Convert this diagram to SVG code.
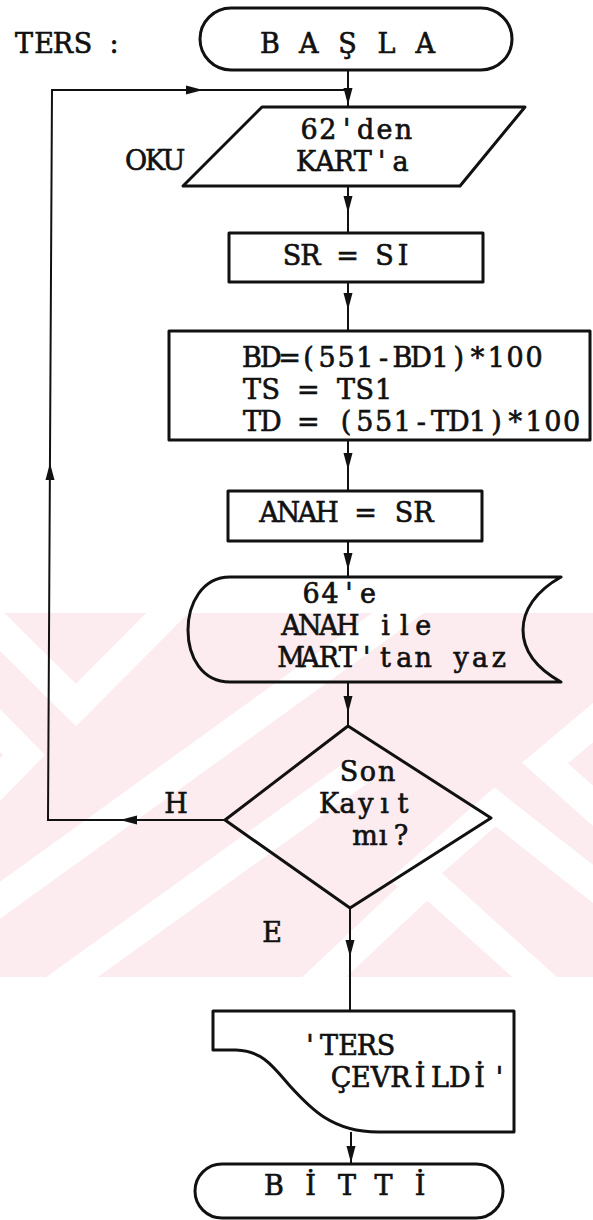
<svg xmlns="http://www.w3.org/2000/svg" xmlns:xlink="http://www.w3.org/1999/xlink" width="593" height="1220" viewBox="0 0 593 1220">
<style>
  .shape { fill: none; stroke: #111; stroke-width: 3; stroke-linejoin: round; }
  .conn { fill: none; stroke: #111; stroke-width: 2; }
  .ah { fill: #111; stroke: none; }
  text { font-family: "DejaVu Serif", "Liberation Serif", serif; font-size: 27px; fill: #111; stroke: #111; stroke-width: 0.65; text-anchor: middle; }
</style>
<defs>
  <path id="arrow" d="M0,0 L-4.5,-17 L4.5,-17 Z"/>
  <clipPath id="band"><rect x="0" y="613" width="593" height="364"/></clipPath>
</defs>
<rect x="0" y="0" width="593" height="1220" fill="#ffffff"/>
<g id="watermark" clip-path="url(#band)">
  <rect x="0" y="613" width="593" height="364" fill="#fdecef"/>
  <g fill="none" stroke="#ffffff" stroke-width="30">
    <polyline points="-20,610 76,705 190,590"/>
    <polyline points="-15,715 24,755 -15,795"/>
    <line x1="-30" y1="922" x2="430" y2="590"/>
    <line x1="40" y1="1000" x2="360" y2="770"/>
    <polyline points="300,1000 427,880 560,1000"/>
    <polyline points="400,890 495,807 620,905"/>
    <polyline points="620,700 545,763 620,830"/>
  </g>
</g>
<g id="connectors">
  <path class="conn" d="M348,70 V107"/>
  <path class="conn" d="M348,186 V233"/>
  <path class="conn" d="M348,282 V331"/>
  <path class="conn" d="M348,440 V491"/>
  <path class="conn" d="M348,541 V577"/>
  <path class="conn" d="M348,682 V726"/>
  <path class="conn" d="M350,908 V1011"/>
  <path class="conn" d="M351,1132 V1164"/>
  <path class="conn" d="M225,820 H48 L52,90 H348"/>
  <use xlink:href="#arrow" class="ah" transform="translate(348,105)"/>
  <use xlink:href="#arrow" class="ah" transform="translate(348,213)"/>
  <use xlink:href="#arrow" class="ah" transform="translate(348,310)"/>
  <use xlink:href="#arrow" class="ah" transform="translate(348,470)"/>
  <use xlink:href="#arrow" class="ah" transform="translate(348,570)"/>
  <use xlink:href="#arrow" class="ah" transform="translate(348,713)"/>
  <use xlink:href="#arrow" class="ah" transform="translate(350,957)"/>
  <use xlink:href="#arrow" class="ah" transform="translate(351,1163)"/>
  <use xlink:href="#arrow" class="ah" transform="translate(120,820) rotate(90)"/>
  <use xlink:href="#arrow" class="ah" transform="translate(50,463) rotate(180)"/>
  <use xlink:href="#arrow" class="ah" transform="translate(203,90) rotate(-90)"/>
  <text x="176" y="813">H</text>
  <text x="272" y="942">E</text>
</g>
<g id="title">
  <text x="24 44 63 83 100 114" y="53">TERS :</text>
</g>
<g id="start">
  <rect class="shape" x="200" y="8" width="312" height="62" rx="31"/>
  <text x="270 289.4 308.8 328.2 347.6 367 386.4 405.8 425.2" y="53">B A Ş L A</text>
</g>
<g id="read">
  <path class="shape" d="M262,107 L525,107 L460,186 L183,186 Z"/>
  <text x="309 327.9 346.8 365.7 384.6 403.5" y="139">62'den</text>
  <text x="306 324.9 343.8 362.7 381.6 400.5" y="171">KART'a</text>
  <text x="136 155 174" y="170">OKU</text>
</g>
<g id="assign1">
  <rect class="shape" x="229" y="233" width="254" height="49"/>
  <text x="292 310.5 329 347.5 366 384.5 403" y="265">SR = SI</text>
</g>
<g id="compute">
  <rect class="shape" x="169" y="331" width="421" height="109"/>
  <text x="252 270.8 289.6 308.4 327.2 346 364.8 383.6 402.4 421.2 440 458.8 477.6 496.4 515.2 534" y="367">BD=(551-BD1)*100</text>
  <text x="252 270.8 289.6 308.4 327.2 346 364.8 383.6" y="399">TS = TS1</text>
  <text x="252 270.8 289.6 308.4 327.2 346 364.8 383.6 402.4 421.2 440 458.8 477.6 496.4 515.2 534 552.8 571.6" y="431">TD = (551-TD1)*100</text>
</g>
<g id="assign2">
  <rect class="shape" x="228" y="491" width="254" height="50"/>
  <text x="269 288.3 307.6 326.9 346.2 365.5 384.8 404.1 423.4" y="522">ANAH = SR</text>
</g>
<g id="write">
  <path class="shape" d="M561,577 L230,577 C202,577 188,604 188,630 C188,657 202,682 230,682 L561,682 C536,668 523,650 523,630 C523,610 536,591 561,577 Z"/>
  <text x="311 330 349 368" y="603">64'e</text>
  <text x="291 309.9 328.8 347.7 366.6 385.5 404.4 423.3" y="635">ANAH ile</text>
  <text x="291 309.9 328.8 347.7 366.6 385.5 404.4 423.3 442.2 461.1 480 498.9" y="667">MART'tan yaz</text>
</g>
<g id="decision">
  <path class="shape" d="M348,726 L491,818 L350,908 L225,820 Z"/>
  <text x="349 367.9 386.8" y="781">Son</text>
  <text x="329 347.5 366 384.5 403" y="813">Kayıt</text>
  <text x="365 383 401" y="845">mı?</text>
</g>
<g id="output">
  <path class="shape" d="M213,1011 L514,1011 L514,1132 L378,1132 C332,1132 310,1108 290,1086 C272,1065 262,1051 236,1050 L213,1050 Z"/>
  <text x="310 329 348 367 386" y="1055">'TERS</text>
  <text x="341 360.8 380.6 400.4 420.2 440 459.8 479.6 499.4" y="1087">ÇEVRİLDİ'</text>
</g>
<g id="end">
  <rect class="shape" x="195" y="1164" width="308" height="54" rx="27"/>
  <text x="274 292.25 310.5 328.75 347 365.25 383.5 401.75 420" y="1195">B İ T T İ</text>
</g>
</svg>
